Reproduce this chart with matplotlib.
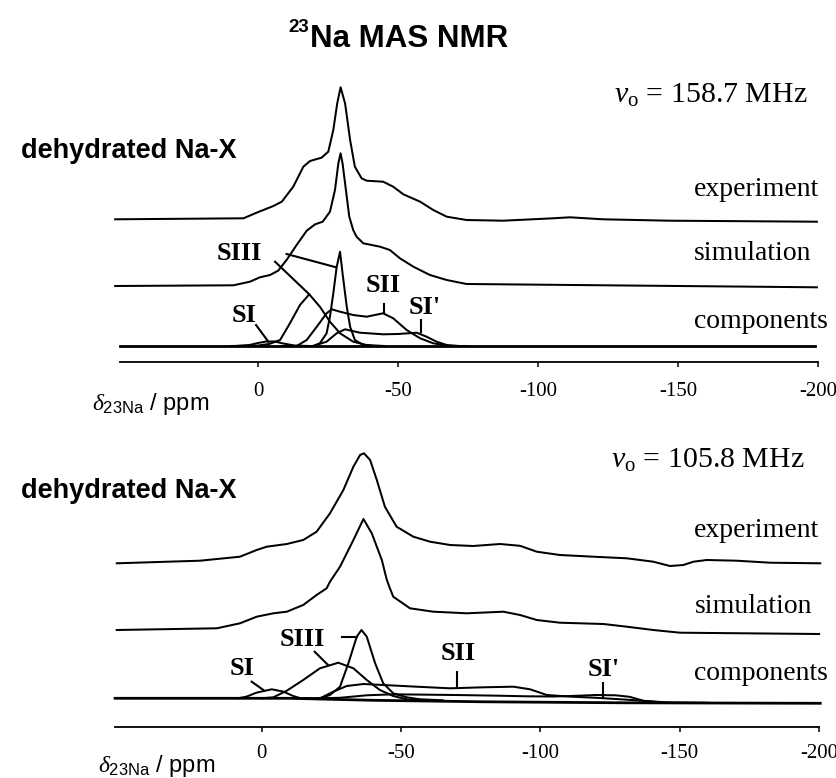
import matplotlib.pyplot as plt

plt.rcParams['mathtext.fontset'] = 'custom'
plt.rcParams['mathtext.rm'] = 'Liberation Serif'
plt.rcParams['mathtext.it'] = 'Liberation Serif:italic'
plt.rcParams['mathtext.sf'] = 'Liberation Sans'

# --- axis ticks ---
tick_ppm = [0, -50, -100, -150, -200]
tick_labels = ['0', '-50', '-100', '-150', '-200']

# --- 158.7 MHz: intensities above each trace's own baseline ---
hf_exp_ppm = [51, 5.2, 0.5, -5.5, -8.5, -12.6, -16.2, -18.6, -22.7, -25.1, -26.9, -28.3, -29.5,
              -31.1, -32.9, -34.6, -37, -38.8, -44.7, -48.3, -51.9, -57.9, -62.6, -67.4, -74.5,
              -87.5, -105.4, -111.4, -123.2, -147, -199.6]
hf_exp_int = [0.7, 1.7, 7.3, 14, 18.3, 33.3, 53.3, 59, 62.3, 68.3, 90, 116.7, 132.7,
              116.7, 80, 53.3, 41.7, 39.3, 38.3, 33.3, 25.7, 18.3, 10, 3.3, 0,
              -0.7, 1.7, 2.7, 0.7, -0.7, -1.7]

hf_sim_ppm = [51, 8.8, 2.9, -0.7, -4.3, -7.2, -10.2, -13.8, -17.4, -20.4, -23.1, -25.7, -27.5,
              -28.7, -29.5, -30.2, -31.4, -32.6, -34, -35.2, -37.6, -43.6, -47.1, -50.7, -55.5,
              -61.4, -67.4, -74.5, -199.6]
hf_sim_int = [0, 0.7, 4.3, 8.7, 11, 15.3, 26, 41, 55.3, 61.7, 64.3, 74.3, 96,
              122.7, 132.7, 122.7, 96, 69.3, 56, 49.3, 42.7, 39.3, 36, 27.7, 19.3,
              11, 6, 2, -1.3]

hf_si_ppm = [8, 3, 0, -3, -6, -9, -13, -18]
hf_si_int = [0, 1, 3, 4.5, 4.5, 2.5, 0.5, 0]

hf_siii_ppm = [10, 0.5, -4, -7.9, -11.4, -15, -18.3, -22.1, -25.7, -29.3, -34, -38.8, -45]
hf_siii_int = [0, 0.3, 2, 6, 22.7, 41, 51.7, 39.3, 24.3, 12.7, 4.3, 1, 0]

hf_siii2_ppm = [-15, -19.7, -22.1, -24.5, -25.7, -26.9, -28.1, -29.3, -30.2, -31.7, -32.9, -34.6,
                -37.6, -41.2, -45]
hf_siii2_int = [0, 0, 2.7, 12.7, 29.3, 52.7, 79, 94.3, 72.7, 39.3, 19.3, 6, 1, 0, 0]

hf_sii_ppm = [-8, -13.8, -17.4, -21, -24.5, -26.3, -29.3, -34, -38.8, -44.7, -48.3, -53.1, -57.9,
              -62.6, -68.6, -75]
hf_sii_int = [0, 0, 6, 19.3, 32.7, 36.7, 34.3, 31, 29.3, 32.7, 27.7, 16, 7.7, 2.7, 0, 0]

hf_si1_ppm = [-15, -19.7, -24.5, -28.1, -31.1, -36.4, -44.7, -50, -56.7, -60.2, -63.8, -67.4, -72]
hf_si1_int = [0, 0, 4.3, 12.7, 16.7, 13.3, 11.7, 12, 13.3, 9.3, 4.3, 1, 0]

hf_base_ppm = [49.3, -198.9]
hf_base_int = [0, 0]

# --- 105.8 MHz ---
lf_exp_ppm = [52, 22.1, 7.8, 1.8, -1.8, -9, -14.9, -19.7, -24.5, -29.3, -32.9, -35.3, -36.7,
              -38.9, -41.3, -44.2, -48.4, -54.4, -60.4, -67.6, -75.9, -85.5, -92.7, -98.7, -107,
              -119, -131, -140.5, -146.5, -151.3, -154.9, -159.7, -170.4, -182.4, -200.4]
lf_exp_int = [0, 2.6, 6.6, 13.3, 16.6, 19.3, 23.3, 31.6, 50, 73.3, 96.6, 108.3, 110,
              103.3, 83.3, 56.6, 36.6, 26.6, 21.6, 18.3, 17.3, 19.3, 17.5, 11.6, 8.3,
              6.6, 5, 1.6, -2.7, -1.7, 1.6, 3.3, 2.6, 0.6, 0]

lf_sim_ppm = [52, 16.1, 7.8, 1.8, -4.2, -9, -14.9, -19.7, -23.3, -24.5, -28.1, -32.9, -36.5,
              -39.5, -43.1, -44.9, -46, -47.2, -53.2, -61.6, -73.6, -86.7, -92.7, -98.7, -107,
              -122.6, -131, -140.5, -150.1, -200]
lf_sim_int = [0, 1.7, 6.7, 13.3, 16.7, 18.3, 25, 35, 41.7, 48.3, 63.3, 90, 111,
              96.7, 70, 50, 41.7, 33.3, 21.7, 18.3, 16.7, 18.3, 15, 10, 7.3,
              6, 3.3, 0, -2.7, -4]

lf_si_ppm = [8.5, 5.4, 1.8, -3.6, -7.7, -11.3, -14]
lf_si_int = [0, 1.7, 5.7, 9, 6.7, 2.3, 0]

lf_siii_ppm = [0, -4.2, -9, -14.9, -20.9, -27.5, -32.9, -37.7, -42.4, -47.2, -52, -60]
lf_siii_int = [0, 1, 7.6, 18.3, 30, 35.6, 30, 18.3, 8.3, 2.3, -1, -2]

lf_siii2_ppm = [-15, -20.9, -24.5, -28.1, -31.1, -34.1, -35.8, -37.7, -40.7, -43.6, -47.2, -52,
                -56.8, -65]
lf_siii2_int = [0, 0, 3.3, 11.6, 35, 61.6, 68.3, 61.6, 35, 15, 5, 1, -1, -2]

lf_sii_ppm = [-15, -20.9, -25.7, -30.5, -36.5, -43.6, -55.6, -67.6, -79.5, -90.3, -96.3, -102.3,
              -110.6, -120, -134.5, -145]
lf_sii_int = [0, 0, 6.6, 12.3, 14.3, 13.3, 11.6, 10, 11, 11.6, 9, 3.3, 1.7, 0.5, -2, -4.5]

lf_si1_ppm = [-20, -28, -37.7, -47.2, -60, -72, -85, -95, -105, -113, -120, -127, -132, -137,
              -145, -160]
lf_si1_int = [0, 0.5, 3, 4, 3.6, 3.2, 2.6, 2, 1.8, 2.5, 3.3, 3, 1.5, -2.5, -4, -4.5]

lf_base_ppm = [52.6, -10, -40, -80, -130, -200.4]
lf_base_int = [0, 0, -2, -3.5, -4.5, -5]

serif = 'Liberation Serif'
sans = 'Liberation Sans'
lw = 1.45

fig = plt.figure(figsize=(8.37, 7.78), dpi=100)
ax1 = fig.add_axes([0, 358 / 778, 1, 420 / 778])
ax2 = fig.add_axes([0, 0, 1, 358 / 778])


def shift(vals, off):
    return [v + off for v in vals]


def setup_axis(ax, xlim, ylim, start, pad):
    ax.set_xlim(*xlim)
    ax.set_ylim(*ylim)
    ax.patch.set_visible(False)
    for s in ['top', 'left', 'right']:
        ax.spines[s].set_visible(False)
    ax.spines['bottom'].set_position(('data', 0))
    ax.spines['bottom'].set_bounds(start, -200)
    ax.spines['bottom'].set_linewidth(1.3)
    ax.set_yticks([])
    ax.set_xticks(tick_ppm)
    ax.set_xticklabels(tick_labels, fontfamily=serif, fontsize=15)
    ax.tick_params(axis='x', direction='out', length=3.6, width=1.1, pad=pad)


def pointer(ax, p0, p1):
    ax.plot([p0[0], p1[0]], [p0[1], p1[1]], color='black', lw=1.5)


# --- panel 1: 158.7 MHz ---
setup_axis(ax1, (92.14, -206.79), (-58, 362), 49.3, 11)
ax1.plot(hf_exp_ppm, shift(hf_exp_int, 142), color='black', lw=lw)
ax1.plot(hf_sim_ppm, shift(hf_sim_int, 76), color='black', lw=lw)
ax1.plot(hf_base_ppm, shift(hf_base_int, 16), color='black', lw=2.0)
for xs, ys in [(hf_si_ppm, hf_si_int), (hf_siii_ppm, hf_siii_int), (hf_siii2_ppm, hf_siii2_int),
               (hf_sii_ppm, hf_sii_int), (hf_si1_ppm, hf_si1_int)]:
    ax1.plot(xs, shift(ys, 16), color='black', lw=lw)

ax1.text(-18.6, 315.3, 'Na MAS NMR', fontfamily=sans, fontweight='bold', fontsize=22.5,
         ha='left', va='baseline')
ax1.text(-18.2, 330.3, '23', fontfamily=sans, fontweight='bold', fontsize=13.5,
         ha='right', va='baseline')
ax1.text(-196.4, 258.7, r'$\nu_{\mathrm{o}}$ = 158.7 MHz', fontfamily=serif, fontsize=21.5,
         ha='right', va='baseline')
ax1.text(84.6, 203.5, 'dehydrated Na-X', fontfamily=sans, fontweight='bold', fontsize=19.5,
         ha='left', va='baseline')
ax1.text(-155.5, 166.3, 'experiment', fontfamily=serif, fontsize=20, ha='left', va='baseline')
ax1.text(-155.7, 102, 'simulation', fontfamily=serif, fontsize=20, ha='left', va='baseline')
ax1.text(-155.7, 33.7, 'components', fontfamily=serif, fontsize=20, ha='left', va='baseline')
ax1.text(59.4, -48, r'$\delta_{\mathsf{23Na}}$ / ppm', fontfamily=sans, fontsize=17,
         ha='left', va='baseline')

site_kw = dict(fontfamily=serif, fontweight='bold', fontsize=19, ha='center', va='center')
ax1.text(6.8, 109, 'SIII', **site_kw)
ax1.text(-44.7, 76, 'SII', **site_kw)
ax1.text(-59.6, 54, "SI'", **site_kw)
ax1.text(5, 47, 'SI', **site_kw)
pointer(ax1, (-6.1, 100.3), (-18.3, 67.7))
pointer(ax1, (-10.2, 108), (-27.9, 94.7))
pointer(ax1, (-45, 58), (-45, 48.7))
pointer(ax1, (-58.1, 42), (-58.1, 30.3))
pointer(ax1, (0.7, 37), (-3.7, 20.3))

# --- panel 2: 105.8 MHz ---
setup_axis(ax2, (93.9, -206.42), (-51.3, 306.7), 52.6, 9)
ax2.plot(lf_exp_ppm, shift(lf_exp_int, 163.4), color='black', lw=lw)
ax2.plot(lf_sim_ppm, shift(lf_sim_int, 96.7), color='black', lw=lw)
ax2.plot(lf_base_ppm, shift(lf_base_int, 28.4), color='black', lw=2.0)
for xs, ys in [(lf_si_ppm, lf_si_int), (lf_siii_ppm, lf_siii_int), (lf_siii2_ppm, lf_siii2_int),
               (lf_sii_ppm, lf_sii_int), (lf_si1_ppm, lf_si1_int)]:
    ax2.plot(xs, shift(ys, 28.4), color='black', lw=lw)

ax2.text(-194.9, 258.4, r'$\nu_{\mathrm{o}}$ = 105.8 MHz', fontfamily=serif, fontsize=21.5,
         ha='right', va='baseline')
ax2.text(86.4, 228.4, 'dehydrated Na-X', fontfamily=sans, fontweight='bold', fontsize=19.5,
         ha='left', va='baseline')
ax2.text(-155.1, 190, 'experiment', fontfamily=serif, fontsize=20, ha='left', va='baseline')
ax2.text(-155.5, 113.4, 'simulation', fontfamily=serif, fontsize=20, ha='left', va='baseline')
ax2.text(-155.1, 46.7, 'components', fontfamily=serif, fontsize=20, ha='left', va='baseline')
ax2.text(58.7, -45, r'$\delta_{\mathsf{23Na}}$ / ppm', fontfamily=sans, fontsize=17,
         ha='left', va='baseline')

ax2.text(-14.6, 86.7, 'SIII', **site_kw)
ax2.text(7.2, 58.4, 'SI', **site_kw)
ax2.text(-70.5, 73.4, 'SII', **site_kw)
ax2.text(-122.6, 56.7, "SI'", **site_kw)
pointer(ax2, (-19, 75), (-23.8, 61.7))
pointer(ax2, (-28.7, 89.4), (-34.1, 89.4))
pointer(ax2, (3.6, 45), (-0.6, 36.7))
pointer(ax2, (-70.2, 55), (-70.2, 38.4))
pointer(ax2, (-122.6, 43.4), (-122.6, 30))

fig.savefig('out.png', dpi=100)
